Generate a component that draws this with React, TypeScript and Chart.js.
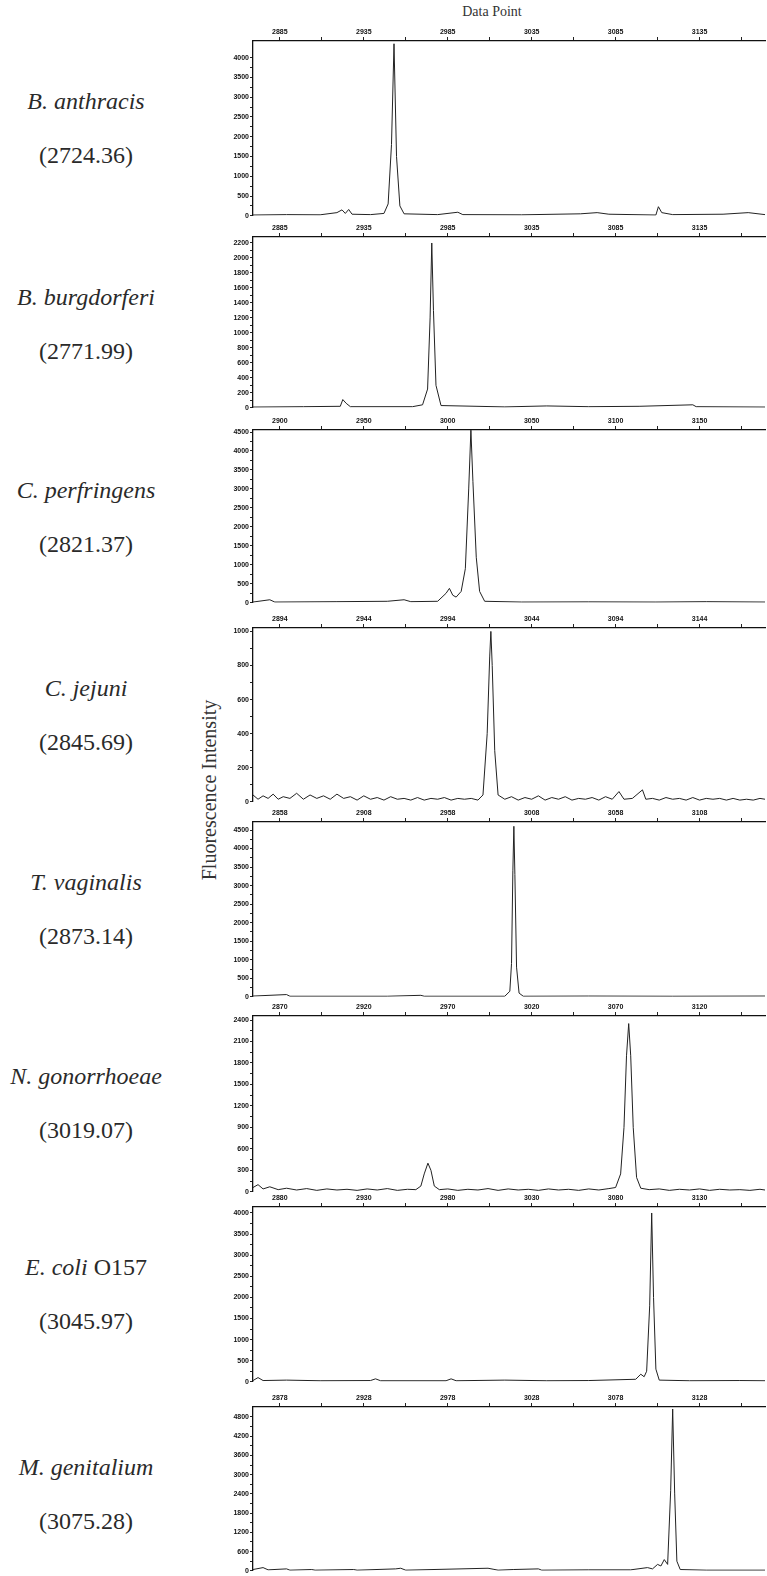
import React, { useEffect, useRef } from 'react';
import { Chart, registerables } from 'chart.js';

Chart.register(...registerables);

// ---------- data ----------
const speciesNames = [
  'B. anthracis',
  'B. burgdorferi',
  'C. perfringens',
  'C. jejuni',
  'T. vaginalis',
  'N. gonorrhoeae',
  'E. coli',
  'M. genitalium',
];
const speciesSuffix = ['', '', '', '', '', '', ' O157', ''];
const massLabels = [
  '(2724.36)',
  '(2771.99)',
  '(2821.37)',
  '(2845.69)',
  '(2873.14)',
  '(3019.07)',
  '(3045.97)',
  '(3075.28)',
];

// top-axis (data point) tick labels per panel
const xLabelsAnthracis = [2885, 2935, 2985, 3035, 3085, 3135];
const xLabelsBurgdorferi = [2885, 2935, 2985, 3035, 3085, 3135];
const xLabelsPerfringens = [2900, 2950, 3000, 3050, 3100, 3150];
const xLabelsJejuni = [2894, 2944, 2994, 3044, 3094, 3144];
const xLabelsVaginalis = [2858, 2908, 2958, 3008, 3058, 3108];
const xLabelsGonorrhoeae = [2870, 2920, 2970, 3020, 3070, 3120];
const xLabelsColi = [2880, 2930, 2980, 3030, 3080, 3130];
const xLabelsGenitalium = [2878, 2928, 2978, 3028, 3078, 3128];

// x ranges per panel [min, max]
const xRanges = [
  [2869, 3174],
  [2869, 3174],
  [2884, 3189],
  [2878, 3183],
  [2842, 3147],
  [2854, 3159],
  [2864, 3169],
  [2862, 3167],
];

// y-axis tick labels per panel
const yLabelsAnthracis = [0, 500, 1000, 1500, 2000, 2500, 3000, 3500, 4000];
const yLabelsBurgdorferi = [0, 200, 400, 600, 800, 1000, 1200, 1400, 1600, 1800, 2000, 2200];
const yLabelsPerfringens = [0, 500, 1000, 1500, 2000, 2500, 3000, 3500, 4000, 4500];
const yLabelsJejuni = [0, 200, 400, 600, 800, 1000];
const yLabelsVaginalis = [0, 500, 1000, 1500, 2000, 2500, 3000, 3500, 4000, 4500];
const yLabelsGonorrhoeae = [0, 300, 600, 900, 1200, 1500, 1800, 2100, 2400];
const yLabelsColi = [0, 500, 1000, 1500, 2000, 2500, 3000, 3500, 4000];
const yLabelsGenitalium = [0, 600, 1200, 1800, 2400, 3000, 3600, 4200, 4800];

const yMaxima = [4420, 2280, 4553, 1020, 4716, 2456, 4142, 5112];

// traces: [data point, fluorescence intensity]
const traceAnthracis = [
  [2869, 20], [2889, 30], [2909, 25], [2919, 80], [2922, 150], [2924, 60], [2926, 160], [2928, 40],
  [2939, 30], [2947, 60], [2949.5, 300], [2951.5, 1800], [2953, 4350], [2954.5, 1500], [2956.5, 250],
  [2959, 50], [2979, 30], [2991, 90], [2994, 30], [3029, 25], [3064, 50], [3074, 80], [3081, 40],
  [3109, 20], [3110.5, 230], [3112.5, 80], [3119, 30], [3149, 40], [3164, 80], [3174, 30],
];
const traceBurgdorferi = [
  [2869, 10], [2899, 15], [2921, 20], [2922.5, 110], [2924.5, 60], [2927, 15], [2964, 15], [2970, 40],
  [2973, 250], [2974.5, 1200], [2975.5, 2200], [2976.5, 1300], [2978, 300], [2981, 30], [3019, 12],
  [3044, 25], [3069, 15], [3099, 20], [3131, 40], [3133, 15], [3174, 10],
];
const tracePerfringens = [
  [2884, 20], [2894, 80], [2897, 20], [2934, 30], [2964, 40], [2974, 80], [2978, 30], [2994, 40],
  [2999, 250], [3001, 380], [3003, 200], [3005, 150], [3008, 300], [3010.5, 900], [3012.5, 3000],
  [3013.8, 4550], [3015, 3200], [3017, 1200], [3019, 300], [3022, 40], [3044, 20], [3084, 25],
  [3124, 20], [3154, 30], [3189, 20],
];
const traceJejuni = [
  [2878, 40], [2881, 15], [2884, 35], [2887, 20], [2890, 45], [2893, 15], [2896, 30], [2900, 20],
  [2904, 50], [2908, 15], [2912, 40], [2916, 20], [2920, 35], [2924, 15], [2928, 45], [2932, 20],
  [2936, 30], [2940, 10], [2944, 35], [2948, 15], [2952, 25], [2956, 10], [2960, 30], [2964, 15],
  [2968, 20], [2972, 10], [2976, 25], [2980, 10], [2984, 20], [2988, 15], [2992, 25], [2996, 10],
  [3000, 20], [3004, 15], [3008, 20], [3012, 10], [3015, 40], [3017.5, 400], [3019, 850],
  [3019.7, 1000], [3020.5, 800], [3022, 300], [3024, 40], [3028, 15], [3032, 30], [3036, 10],
  [3040, 25], [3044, 15], [3048, 35], [3052, 10], [3056, 25], [3060, 15], [3064, 30], [3068, 10],
  [3072, 20], [3076, 15], [3080, 25], [3084, 10], [3088, 30], [3092, 15], [3096, 60], [3099, 15],
  [3104, 20], [3110, 70], [3112, 15], [3116, 20], [3120, 10], [3124, 25], [3128, 15], [3132, 20],
  [3136, 10], [3140, 25], [3144, 10], [3148, 20], [3152, 15], [3156, 20], [3160, 10], [3164, 20],
  [3168, 10], [3172, 15], [3176, 10], [3180, 20], [3183, 15],
];
const traceVaginalis = [
  [2842, 20], [2862, 60], [2864, 15], [2922, 15], [2942, 40], [2944, 15], [2992, 15], [2995, 150],
  [2996, 900], [2996.8, 3400], [2997.4, 4600], [2998, 3300], [2999, 800], [3000.5, 100], [3003, 15],
  [3042, 20], [3092, 15], [3147, 20],
];
const traceGonorrhoeae = [
  [2854, 60], [2857, 100], [2860, 40], [2864, 70], [2869, 30], [2874, 50], [2880, 25], [2886, 45],
  [2892, 20], [2898, 40], [2904, 25], [2910, 35], [2916, 20], [2922, 40], [2928, 25], [2934, 45],
  [2940, 20], [2946, 35], [2951, 30], [2954, 80], [2956, 250], [2958.2, 400], [2960, 300], [2962, 80],
  [2965, 30], [2970, 40], [2976, 20], [2982, 35], [2988, 25], [2994, 45], [3000, 20], [3006, 40],
  [3012, 25], [3018, 35], [3024, 20], [3030, 40], [3036, 25], [3042, 35], [3048, 20], [3054, 40],
  [3060, 25], [3066, 45], [3070, 60], [3073, 250], [3075, 900], [3076.5, 1900], [3077.8, 2350],
  [3079, 1900], [3080.5, 900], [3082.5, 200], [3085, 50], [3090, 30], [3096, 40], [3102, 20],
  [3108, 35], [3114, 25], [3120, 40], [3126, 20], [3132, 35], [3138, 25], [3144, 30], [3150, 20],
  [3156, 35], [3159, 25],
];
const traceColi = [
  [2864, 30], [2867, 100], [2870, 30], [2884, 40], [2904, 25], [2934, 30], [2937, 70], [2940, 25],
  [2979, 25], [2982, 70], [2985, 25], [3014, 40], [3039, 25], [3064, 30], [3092, 60], [3095, 180],
  [3097, 120], [3098.5, 250], [3100.3, 1800], [3101.5, 4000], [3102.6, 2000], [3104, 300], [3106, 40],
  [3124, 25], [3154, 30], [3169, 25],
];
const traceGenitalium = [
  [2862, 40], [2868, 100], [2871, 30], [2882, 60], [2884, 20], [2897, 40], [2899, 20], [2922, 40],
  [2924, 20], [2947, 60], [2950, 80], [2953, 20], [3002, 80], [3005, 50], [3008, 20], [3017, 40],
  [3032, 60], [3034, 20], [3062, 30], [3087, 30], [3097, 100], [3100, 60], [3103, 200], [3105, 150],
  [3107, 350], [3109, 200], [3110.8, 2500], [3112, 5050], [3113.2, 2400], [3114.5, 300],
  [3116.5, 40], [3132, 20], [3167, 20],
];

const traces = [
  traceAnthracis, traceBurgdorferi, tracePerfringens, traceJejuni,
  traceVaginalis, traceGonorrhoeae, traceColi, traceGenitalium,
];
const xLabelSets = [
  xLabelsAnthracis, xLabelsBurgdorferi, xLabelsPerfringens, xLabelsJejuni,
  xLabelsVaginalis, xLabelsGonorrhoeae, xLabelsColi, xLabelsGenitalium,
];
const yLabelSets = [
  yLabelsAnthracis, yLabelsBurgdorferi, yLabelsPerfringens, yLabelsJejuni,
  yLabelsVaginalis, yLabelsGonorrhoeae, yLabelsColi, yLabelsGenitalium,
];

// ---------- layout ----------
const PANEL_TOPS = [41, 237, 430, 628, 822, 1016, 1207, 1407];
const PANEL_HEIGHTS = [175, 171, 173, 174, 175, 176, 175, 164];
const X_AXIS_H = 18;
const Y_AXIS_W = 38;
const CANVAS_LEFT = 215;
const CANVAS_W = 767 - CANVAS_LEFT;
const PAD_BOTTOM = 5;

const tickFont = { family: 'Liberation Sans, Arial, sans-serif', size: 7, weight: 'bold' as const };

function withMinors(labels: number[], extraEnd: boolean): number[] {
  const out: number[] = [];
  for (let i = 0; i < labels.length; i++) {
    out.push(labels[i]);
    if (i < labels.length - 1) out.push((labels[i] + labels[i + 1]) / 2);
  }
  if (extraEnd && labels.length > 1) {
    out.push(labels[labels.length - 1] + (labels[1] - labels[0]) / 2);
  }
  return out;
}

function Panel({ index }: { index: number }) {
  const ref = useRef<HTMLCanvasElement | null>(null);
  const height = X_AXIS_H + PANEL_HEIGHTS[index] + PAD_BOTTOM;

  useEffect(() => {
    if (!ref.current) return;
    const trace = traces[index];
    const xLabels = xLabelSets[index];
    const yLabels = yLabelSets[index];
    const xTicks = withMinors(xLabels, true);
    const yTicks = withMinors(yLabels, false);
    const chart = new Chart(ref.current, {
      type: 'line',
      data: {
        datasets: [
          {
            data: trace.map(([x, y]) => ({ x, y })),
            borderColor: '#222',
            borderWidth: 1,
            pointRadius: 0,
            fill: false,
            tension: 0,
          },
        ],
      },
      options: {
        animation: false,
        responsive: false,
        devicePixelRatio: 1,
        layout: { padding: { top: 0, right: 2, bottom: PAD_BOTTOM, left: 0 } },
        plugins: { legend: { display: false }, tooltip: { enabled: false } },
        scales: {
          x: {
            type: 'linear',
            position: 'top',
            min: xRanges[index][0],
            max: xRanges[index][1],
            afterBuildTicks: (s: any) => {
              s.ticks = xTicks.map((v) => ({ value: v }));
            },
            afterFit: (s: any) => {
              s.height = X_AXIS_H;
            },
            ticks: {
              autoSkip: false,
              maxRotation: 0,
              padding: 1,
              color: '#111',
              font: tickFont,
              callback: (v: any) => (xLabels.includes(Number(v)) ? String(v) : ''),
            },
            grid: { drawOnChartArea: false, drawTicks: true, tickLength: 4, color: '#222' },
            border: { display: true, color: '#111', width: 1.3 },
          },
          y: {
            type: 'linear',
            min: 0,
            max: yMaxima[index],
            afterBuildTicks: (s: any) => {
              s.ticks = yTicks.map((v) => ({ value: v }));
            },
            afterFit: (s: any) => {
              s.width = Y_AXIS_W;
            },
            ticks: {
              autoSkip: false,
              padding: 1,
              color: '#111',
              font: tickFont,
              callback: (v: any) => (yLabels.includes(Number(v)) ? String(v) : ''),
            },
            grid: { drawOnChartArea: false, drawTicks: true, tickLength: 3, color: '#222' },
            border: { display: true, color: '#111', width: 1.3 },
          },
        },
      },
    });
    return () => chart.destroy();
  }, [index]);

  return (
    <canvas
      ref={ref}
      width={CANVAS_W}
      height={height}
      style={{
        position: 'absolute',
        left: CANVAS_LEFT,
        top: PANEL_TOPS[index] - X_AXIS_H,
        width: CANVAS_W,
        height,
      }}
    />
  );
}

const serif = '"Liberation Serif", "Times New Roman", serif';

export default function App() {
  return (
    <div
      style={{
        position: 'absolute',
        left: 0,
        top: 0,
        width: 767,
        height: 1576,
        background: '#fff',
        overflow: 'hidden',
        fontFamily: serif,
        color: '#2a2a2a',
      }}
    >
      <div
        style={{
          position: 'absolute',
          left: 492,
          top: 12,
          transform: 'translate(-50%, -50%)',
          fontSize: 14,
          whiteSpace: 'nowrap',
          color: '#333',
        }}
      >
        Data Point
      </div>
      <div
        style={{
          position: 'absolute',
          left: 209,
          top: 790,
          transform: 'translate(-50%, -50%) rotate(-90deg)',
          fontSize: 20,
          whiteSpace: 'nowrap',
          color: '#333',
        }}
      >
        Fluorescence Intensity
      </div>
      {speciesNames.map((name, i) => (
        <React.Fragment key={name}>
          <div
            style={{
              position: 'absolute',
              left: 86,
              top: PANEL_TOPS[i] + 60,
              transform: 'translate(-50%, -50%)',
              fontSize: 24,
              whiteSpace: 'nowrap',
            }}
          >
            <span style={{ fontStyle: 'italic' }}>{name}</span>
            {speciesSuffix[i]}
          </div>
          <div
            style={{
              position: 'absolute',
              left: 86,
              top: PANEL_TOPS[i] + 114,
              transform: 'translate(-50%, -50%)',
              fontSize: 24,
              whiteSpace: 'nowrap',
            }}
          >
            {massLabels[i]}
          </div>
        </React.Fragment>
      ))}
      {speciesNames.map((_, i) => (
        <Panel key={i} index={i} />
      ))}
    </div>
  );
}
